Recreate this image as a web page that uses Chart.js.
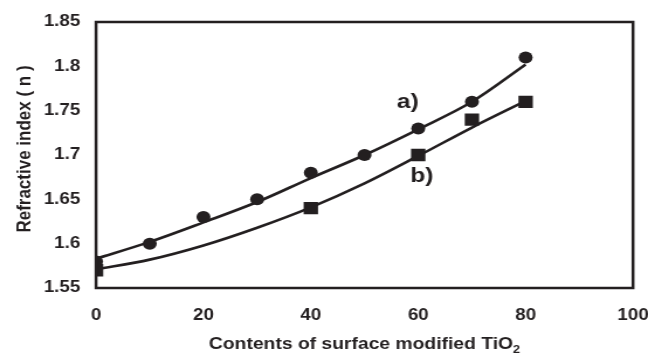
<!DOCTYPE html>
<html>
<head>
<meta charset="utf-8">
<script src="https://cdn.jsdelivr.net/npm/chart.js@4.4.1/dist/chart.umd.min.js"></script>
<style>
  html, body { margin: 0; padding: 0; background: #ffffff; }
  #c { display: block; }
</style>
</head>
<body>
<canvas id="c" width="554" height="358" style="width:648px;height:358px;"></canvas>
<script>
// ---- data ----
const contentA = [0, 10, 20, 30, 40, 50, 60, 70, 80];
const indexA   = [1.58, 1.60, 1.63, 1.65, 1.68, 1.70, 1.73, 1.76, 1.81];
const contentB = [0, 40, 60, 70, 80];
const indexB   = [1.57, 1.64, 1.70, 1.74, 1.76];
// fitted trend curves as drawn in the figure
const trendX  = [0, 10, 20, 30, 40, 50, 60, 70, 80];
const trendA  = [1.583, 1.602, 1.624, 1.647, 1.674, 1.700, 1.729, 1.760, 1.802];
const trendB  = [1.571, 1.582, 1.598, 1.618, 1.641, 1.668, 1.699, 1.731, 1.761];
const xTicks  = [0, 20, 40, 60, 80, 100];
const yTicks  = [1.55, 1.6, 1.65, 1.7, 1.75, 1.8, 1.85];
const curveLabels = ['a)', 'b)'];
const labelAt = [[56.0, 1.753], [58.5, 1.670]];

const INK = '#231f20';
const FONT = '"Liberation Sans", Arial, Helvetica, sans-serif';
const pts = (xs, ys) => xs.map((x, i) => ({ x: x, y: ys[i] }));

const frameAndText = {
  id: 'frameAndText',
  afterDatasetsDraw(chart) {
    const ctx = chart.ctx;
    const a = chart.chartArea;
    const sx = chart.scales.x, sy = chart.scales.y;
    ctx.save();
    ctx.strokeStyle = INK;
    ctx.lineWidth = 2.5;
    ctx.strokeRect(a.left, a.top, a.right - a.left, a.bottom - a.top);
    ctx.fillStyle = INK;
    ctx.font = 'bold 21px ' + FONT;
    ctx.textAlign = 'left';
    ctx.textBaseline = 'alphabetic';
    curveLabels.forEach((t, i) => {
      ctx.fillText(t, sx.getPixelForValue(labelAt[i][0]), sy.getPixelForValue(labelAt[i][1]));
    });
    // axis titles
    ctx.font = 'bold 16.5px ' + FONT;
    const main = 'Contents of surface modified TiO';
    const wMain = ctx.measureText(main).width;
    ctx.font = 'bold 11px ' + FONT;
    const wSub = ctx.measureText('2').width;
    const cx = (a.left + a.right) / 2;
    const startX = cx - (wMain + wSub) / 2;
    ctx.textAlign = 'left';
    ctx.font = 'bold 16.5px ' + FONT;
    ctx.fillText(main, startX, 349);
    ctx.font = 'bold 11px ' + FONT;
    ctx.fillText('2', startX + wMain, 353);
    ctx.translate(21, 149);
    ctx.rotate(-Math.PI / 2);
    ctx.font = 'bold 17px ' + FONT;
    ctx.textAlign = 'center';
    ctx.textBaseline = 'middle';
    ctx.fillText('Refractive index ( n )', 0, 0);
    ctx.restore();
  }
};

new Chart(document.getElementById('c'), {
  type: 'scatter',
  data: {
    datasets: [
      { label: 'a) points', data: pts(contentA, indexA), pointStyle: 'circle', pointRadius: 6,
        backgroundColor: INK, borderColor: INK, borderWidth: 0, showLine: false },
      { label: 'b) points', data: pts(contentB, indexB), pointStyle: 'rect', pointRadius: 8.7,
        backgroundColor: INK, borderColor: INK, borderWidth: 0, showLine: false },
      { label: 'a) trend', data: pts(trendX, trendA), showLine: true, pointRadius: 0,
        borderColor: INK, borderWidth: 2.6, cubicInterpolationMode: 'monotone', fill: false },
      { label: 'b) trend', data: pts(trendX, trendB), showLine: true, pointRadius: 0,
        borderColor: INK, borderWidth: 2.6, cubicInterpolationMode: 'monotone', fill: false }
    ]
  },
  options: {
    responsive: false,
    animation: false,
    devicePixelRatio: 1,
    layout: { padding: { left: 0, right: 12.8, top: 22, bottom: 0 } },
    plugins: { legend: { display: false }, tooltip: { enabled: false }, title: { display: false } },
    scales: {
      x: {
        type: 'linear', min: 0, max: 100,
        afterBuildTicks: (s) => { s.ticks = xTicks.map(v => ({ value: v })); },
        afterFit: (s) => { s.height = 70; s.paddingLeft = 0; s.paddingRight = 0; },
        grid: { display: false, drawTicks: false },
        border: { display: false },
        ticks: { color: INK, padding: 18, font: { family: FONT, size: 16, weight: 'bold' }, maxRotation: 0 }
      },
      y: {
        type: 'linear', min: 1.55, max: 1.85,
        afterBuildTicks: (s) => { s.ticks = yTicks.map(v => ({ value: v })); },
        afterFit: (s) => { s.width = 82.1; s.paddingTop = 0; s.paddingBottom = 0; },
        grid: { display: false, drawTicks: false },
        border: { display: false },
        ticks: { color: INK, padding: 13.5, font: { family: FONT, size: 16, weight: 'bold' },
                 callback: (v) => String(parseFloat(Number(v).toFixed(2))) }
      }
    }
  },
  plugins: [frameAndText]
});
</script>
</body>
</html>
